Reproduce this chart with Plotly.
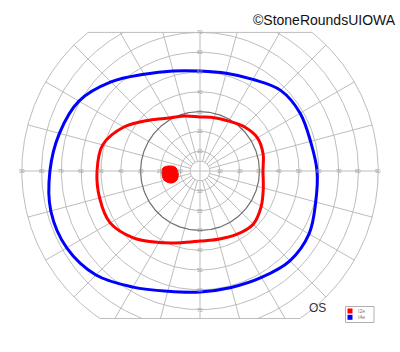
import numpy as np
import plotly.graph_objects as go

# ---------------- data (degrees) ----------------
meridians = list(range(0, 360, 15))
i2e_ecc = [31.8, 33.0, 33.5, 31.6, 29.1, 27.9, 27.3, 28.8, 30.9, 36.3, 44.4, 50.9,
           52.0, 52.5, 52.4, 47.7, 41.7, 37.5, 35.4, 35.7, 37.0, 38.0, 35.7, 33.1]
i4e_ecc = [59.1, 57.8, 58.4, 57.6, 53.4, 51.1, 50.5, 52.3, 56.4, 63.6, 70.6, 73.5,
           75.8, 78.0, 77.7, 74.3, 67.7, 62.9, 61.1, 60.9, 62.1, 64.2, 63.6, 60.5]
# blind spot outline (x, y in degrees)
bs_x = [-16.2, -12.6, -11.1, -11.6, -14.6, -18.2, -19.2, -18.7]
bs_y = [2.5, 2.0, -0.5, -4.5, -6.1, -4.5, -1.0, 1.5]

series_names = ["I2e", "I4e"]
series_colors = ["#ff0000", "#0000ff"]

circle_radii = [5, 10, 20, 30, 40, 50, 60, 70, 80, 90]
emph_radius = 30
spoke_angles = list(range(0, 360, 15))
h_tick_labels = [10, 20, 30, 40, 50, 60, 70, 80, 90]
v_tick_labels = [10, 20, 30, 40, 50, 60, 70]
TOP_LIM = 70.0
BOT_LIM = 74.5
RMAX = 90

# ---------------- geometry ----------------
PX = 1.98  # px per degree
W, H = 400, 352
CX, CY = 200, 171


def circle_xy(R):
    xs, ys = [], []
    if R <= TOP_LIM:
        t = np.linspace(0, 2 * np.pi, 361)
        return list(R * np.cos(t)), list(R * np.sin(t))
    a_top = np.arcsin(min(1, TOP_LIM / R))
    a_bot = np.arcsin(min(1, BOT_LIM / R))
    for t0, t1 in [(-a_bot, a_top), (np.pi - a_top, np.pi + a_bot)]:
        t = np.linspace(t0, t1, 200)
        xs += list(R * np.cos(t)) + [None]
        ys += list(R * np.sin(t)) + [None]
    return xs, ys


def polar_to_xy(angles, ecc):
    a = np.radians(np.array(angles + [angles[0]], dtype=float))
    r = np.array(ecc + [ecc[0]], dtype=float)
    return r * np.cos(a), r * np.sin(a)


fig = go.Figure()

# grid circles
gx, gy = [], []
for R in circle_radii:
    if R == emph_radius:
        continue
    xs, ys = circle_xy(R)
    gx += xs + [None]
    gy += ys + [None]
# spokes
for ang in spoke_angles:
    a = np.radians(ang)
    s = np.sin(a)
    r0 = 0 if ang % 90 == 0 else 5
    r1 = RMAX
    if s > 1e-9:
        r1 = min(RMAX, TOP_LIM / s)
    elif s < -1e-9:
        r1 = min(RMAX, BOT_LIM / -s)
    gx += [r0 * np.cos(a), r1 * np.cos(a), None]
    gy += [r0 * np.sin(a), r1 * np.sin(a), None]
# clip boundary lines
xt = np.sqrt(RMAX ** 2 - TOP_LIM ** 2)
xb = np.sqrt(RMAX ** 2 - BOT_LIM ** 2)
gx += [-xt, xt, None, -xb, xb, None]
gy += [TOP_LIM, TOP_LIM, None, -BOT_LIM, -BOT_LIM, None]

fig.add_trace(go.Scatter(x=gx, y=gy, mode="lines", line=dict(color="#bdbdbd", width=1),
                         hoverinfo="skip", showlegend=False))
ex, ey = circle_xy(emph_radius)
fig.add_trace(go.Scatter(x=ex, y=ey, mode="lines", line=dict(color="#6e6e6e", width=1.2),
                         hoverinfo="skip", showlegend=False))

# isopters
for ecc, name, col in [(i2e_ecc, series_names[0], series_colors[0]),
                       (i4e_ecc, series_names[1], series_colors[1])]:
    x, y = polar_to_xy(meridians, ecc)
    fig.add_trace(go.Scatter(x=x, y=y, mode="lines", name=name,
                             line=dict(color=col, width=3, shape="spline", smoothing=1),
                             showlegend=False))

# blind spot
fig.add_trace(go.Scatter(x=bs_x + [bs_x[0]], y=bs_y + [bs_y[0]], mode="lines", fill="toself",
                         fillcolor="#ff0000", line=dict(color="#ff0000", width=1, shape="spline"),
                         showlegend=False))

annotations = []
for v in h_tick_labels:
    for sgn in (-1, 1):
        annotations.append(dict(x=sgn * v, y=0, text=str(v), showarrow=False,
                                font=dict(size=5, color="#a0a0a0", family="Liberation Sans"),
                                xref="x", yref="y"))
for v in v_tick_labels:
    for sgn in (-1, 1):
        annotations.append(dict(x=0, y=sgn * v, text=str(v), showarrow=False,
                                font=dict(size=5, color="#a0a0a0", family="Liberation Sans"),
                                xref="x", yref="y"))


def px2p(x, y):
    return x / W, 1 - y / H


# OS label
ox, oy = px2p(328, 316.5)
annotations.append(dict(x=ox, y=oy, xref="paper", yref="paper", text="OS", showarrow=False,
                        font=dict(size=12, color="#333333", family="Liberation Sans")))
# copyright
cx_, cy_ = px2p(398, 10.5)
annotations.append(dict(x=cx_, y=cy_, xref="paper", yref="paper", text="©StoneRoundsUIOWA",
                        showarrow=False, xanchor="right",
                        font=dict(size=14, color="#111111", family="Liberation Sans")))

# manual legend
shapes = []
bx0, by0 = px2p(345.5, 306.5)
bx1, by1 = px2p(374, 322.5)
shapes.append(dict(type="rect", xref="paper", yref="paper", x0=bx0, y0=by1, x1=bx1, y1=by0,
                   line=dict(color="#b0b0b0", width=1), fillcolor="white", layer="below"))
for i, (name, col) in enumerate(zip(series_names, series_colors)):
    top = 308.5 + i * 6.3
    sx0, sy0 = px2p(347.5, top)
    sx1, sy1 = px2p(352.5, top + 5)
    shapes.append(dict(type="rect", xref="paper", yref="paper", x0=sx0, y0=sy1, x1=sx1, y1=sy0,
                       line=dict(width=0), fillcolor=col))
    tx, ty = px2p(357, top + 2.5)
    annotations.append(dict(x=tx, y=ty, xref="paper", yref="paper", text=name, showarrow=False,
                            xanchor="left", yanchor="middle", borderpad=0,
                            font=dict(size=5, color="#777777", family="Liberation Sans")))

fig.update_layout(
    width=W, height=H, margin=dict(l=0, r=0, t=0, b=0),
    paper_bgcolor="white", plot_bgcolor="white",
    xaxis=dict(range=[-CX / PX, (W - CX) / PX], visible=False, fixedrange=True),
    yaxis=dict(range=[(CY - H) / PX, CY / PX], visible=False, fixedrange=True),
    showlegend=False, annotations=annotations, shapes=shapes,
)

fig.write_html("out.html")
